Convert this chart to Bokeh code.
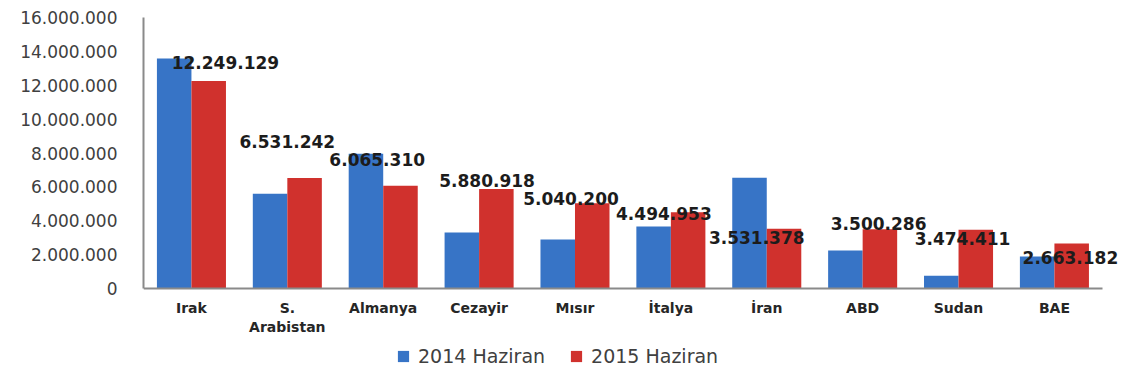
from bokeh.plotting import figure
from bokeh.models import (ColumnDataSource, Range1d, LabelSet, Legend,
                          LegendItem, FixedTicker)
from bokeh.transform import dodge
from bokeh.core.properties import value
from bokeh.embed import file_html
from bokeh.resources import INLINE

# Countries and monthly values (June 2014 vs June 2015)
countries = ["Irak", "S. Arabistan", "Almanya", "Cezayir", "Mısır",
             "İtalya", "İran", "ABD", "Sudan", "BAE"]
haziran_2014 = [13_580_000, 5_600_000, 7_950_000, 3_300_000, 2_900_000,
                3_660_000, 6_540_000, 2_240_000, 750_000, 1_890_000]
haziran_2015 = [12_249_129, 6_531_242, 6_065_310, 5_880_918, 5_040_200,
                4_494_953, 3_531_378, 3_500_286, 3_474_411, 2_663_182]
series_names = ["2014 Haziran", "2015 Haziran"]

y_ticks = [0, 2_000_000, 4_000_000, 6_000_000, 8_000_000,
           10_000_000, 12_000_000, 14_000_000, 16_000_000]
y_tick_labels = ["0", "2.000.000", "4.000.000", "6.000.000", "8.000.000",
                 "10.000.000", "12.000.000", "14.000.000", "16.000.000"]

# Hand-placed value label nudges (screen pixels, relative to the category
# centre and to the top of the 2015 bar)
label_dx = [34, 0, -6, 8, -4, -7, -10, 16, 4, 16]
label_dy = [19, 36, 26, 8, 5, -1, -9, 6, -9, -14]


def dotted(v):
    return f"{v:,}".replace(",", ".")


n = len(countries)
xi = list(range(n))
y_max = y_ticks[-1]

# Canvas layout in pixels: the value axis occupies PLOT_PX, and the strip
# below the zero line (category names, legend) is BELOW_PX tall.  The frame
# covers both, so the y range is extended below zero accordingly.
TOP_PX, PLOT_PX, BELOW_PX = 17, 271, 86
y_start = -y_max * BELOW_PX / PLOT_PX

src = ColumnDataSource(dict(
    xi=xi,
    v2014=haziran_2014,
    v2015=haziran_2015,
    label=[dotted(v) for v in haziran_2015],
    dx=label_dx,
    dy=label_dy,
))

p = figure(
    x_range=Range1d(-0.5, n - 0.5 + 0.21),
    y_range=Range1d(y_start, y_max),
    width=1122, height=TOP_PX + PLOT_PX + BELOW_PX,
    output_backend="svg", toolbar_location=None,
    min_border_left=143, min_border_right=0,
    min_border_top=TOP_PX, min_border_bottom=0,
    background_fill_color="white", border_fill_color="white",
)
p.outline_line_color = None
p.grid.grid_line_color = None

BLUE = "#3774C6"
RED = "#D0312D"

r14 = p.vbar(x=dodge("xi", -0.18), top="v2014",
             width=0.36, source=src, fill_color=BLUE, line_color=None)
r15 = p.vbar(x=dodge("xi", 0.18), top="v2015",
             width=0.36, source=src, fill_color=RED, line_color=None)

labels = LabelSet(x="xi", y="v2015", text="label", source=src,
                  x_offset="dx", y_offset="dy",
                  text_align="center", text_baseline="middle",
                  text_font=value("DejaVu Sans"), text_font_style="bold",
                  text_font_size="17px", text_color="#1c1c1c")
p.add_layout(labels)

# Y axis
p.yaxis.ticker = FixedTicker(ticks=y_ticks)
p.yaxis.bounds = (0, y_max)
p.yaxis.major_label_overrides = dict(zip(y_ticks, y_tick_labels))
p.yaxis.major_label_text_font = "DejaVu Sans"
p.yaxis.major_label_text_font_size = "17px"
p.yaxis.major_label_text_color = "#404040"
p.yaxis.major_tick_line_color = None
p.yaxis.minor_tick_line_color = None
p.yaxis.major_tick_out = 0
p.yaxis.major_label_standoff = 26
p.yaxis.axis_line_color = "#8a8a8a"
p.yaxis.axis_line_width = 2

# X axis drawn on the zero line, one tick per country
xlabels = {i: c for i, c in zip(xi, countries)}
xlabels[countries.index("S. Arabistan")] = "S.\nArabistan"
p.xaxis.fixed_location = 0
p.xaxis.ticker = FixedTicker(ticks=xi)
p.xaxis.bounds = (-0.5, n - 0.5)
p.xaxis.major_label_overrides = xlabels
p.xaxis.major_label_text_font = "DejaVu Sans"
p.xaxis.major_label_text_font_style = "bold"
p.xaxis.major_label_text_font_size = "14px"
p.xaxis.major_label_text_color = "#262626"
p.xaxis.major_tick_line_color = None
p.xaxis.minor_tick_line_color = None
p.xaxis.major_tick_out = 0
p.xaxis.major_label_standoff = 11
p.xaxis.axis_line_color = "#8a8a8a"
p.xaxis.axis_line_width = 2

legend = Legend(
    items=[LegendItem(label=series_names[0], renderers=[r14]),
           LegendItem(label=series_names[1], renderers=[r15])],
    orientation="horizontal",
    location=(253, 7),
    border_line_color=None,
    background_fill_alpha=0,
    padding=0, margin=0, spacing=24,
    glyph_width=14, glyph_height=14, label_standoff=8,
    label_height=20,
    label_text_font="DejaVu Sans", label_text_font_size="19px",
    label_text_color="#404040",
)
p.add_layout(legend)

open("out.html", "w").write(file_html(p, INLINE))
